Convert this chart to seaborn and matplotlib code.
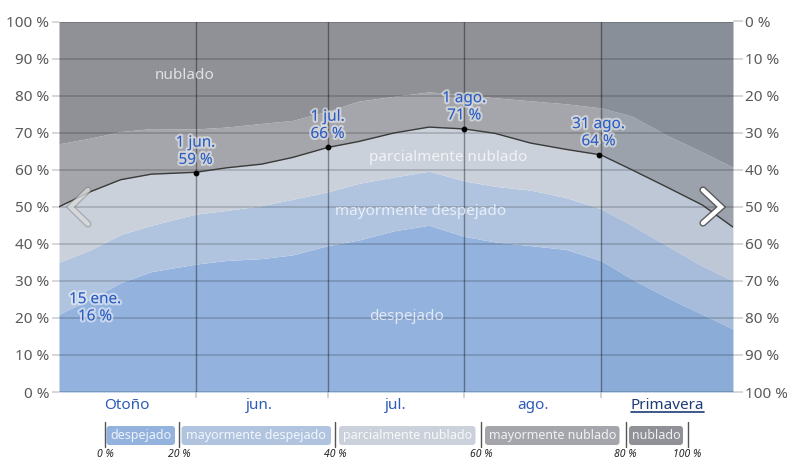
import numpy as np
import pandas as pd
import matplotlib
matplotlib.use("Agg")
import matplotlib.pyplot as plt
import matplotlib.patheffects as pe
from matplotlib.patches import FancyBboxPatch
import seaborn as sns

# ---------------- data (days since 1 May; percent of time) ----------------
days = [0, 7, 14, 21, 31, 38, 46, 53, 61, 68, 76, 84, 92, 99, 107, 115, 123, 130, 138, 146, 153]
despejado = [21, 25, 29.5, 32.5, 34.5, 35.5, 36, 37, 39.5, 41, 43.5, 45, 42, 40.5, 39.5, 38.5, 35.5, 30.5, 25.5, 21, 17]
mayormente_despejado = [14, 13.3, 13, 12.5, 13.5, 13.5, 14.3, 15, 14.5, 15.3, 14.5, 14.6, 15, 15, 15, 14, 14, 14.5, 14, 13, 13]
parcialmente_nublado = [15, 15.7, 14.8, 13.8, 11.3, 11.5, 11.2, 11.3, 12, 11.3, 11.9, 11.9, 14, 14.3, 12.7, 13, 14.5, 15, 15.8, 16.5, 14.5]
mayormente_nublado = [17, 14.5, 13, 12.3, 11.7, 11, 11, 10, 9.8, 10.9, 9.9, 9.5, 9.3, 9.6, 11.4, 12.3, 12.7, 14.5, 14, 14.3, 16.2]
nublado = [33, 31.5, 29.7, 28.9, 29, 28.5, 27.5, 26.7, 24.2, 21.5, 20.2, 19, 19.7, 20.6, 21.4, 22.2, 23.3, 25.5, 30.7, 35.2, 39.3]

categories = ["despejado", "mayormente despejado", "parcialmente nublado", "mayormente nublado", "nublado"]
band_colors = ["#93b2de", "#b0c4e0", "#cbd1db", "#a4a6ab", "#8f9196"]

month_bounds = [31, 61, 92, 123]
month_centers = [15.5, 45.5, 76.5, 107.5, 138]
month_labels = ["Otoño", "jun.", "jul.", "ago.", "Primavera"]

ann_dates = ["1 jun.", "1 jul.", "1 ago.", "31 ago."]
ann_days = [31, 61, 92, 122.5]
ann_values = [59, 66, 71, 64]

min_label = "15 ene.\n16 %"

yticks = list(range(0, 101, 10))

legend_seps = [105, 179, 335, 481, 625.5, 687.5]
legend_pcts = ["0 %", "20 %", "40 %", "60 %", "80 %", "100 %"]
legend_boxes = [(106.5, 175), (181.5, 331), (339, 475.5), (485, 619.5), (629, 683)]

# ---------------- style ----------------
sns.set_theme(style="white")
plt.rcParams["font.family"] = ["Noto Sans", "DejaVu Sans"]

W, H = 787, 459
fig = plt.figure(figsize=(W / 100, H / 100), dpi=100)
ax = fig.add_axes([59 / W, (H - 392) / H, 674 / W, 370.5 / H])

shares = np.array([despejado, mayormente_despejado, parcialmente_nublado,
                   mayormente_nublado, nublado], dtype=float)
cum = np.vstack([np.zeros(len(days)), np.cumsum(shares, axis=0)])
cum[-1] = 100.0

for i, c in enumerate(band_colors):
    ax.fill_between(days, cum[i], cum[i + 1], color=c, lw=0, zorder=1)

# spring overlay
ax.axvspan(123, 153, color="#5f86b2", alpha=0.12, lw=0, zorder=2)

# cloud cover line
line_df = pd.DataFrame({"day": days, "pct": cum[3]})
sns.lineplot(data=line_df, x="day", y="pct", color="#3a3a3a", lw=1.0, ax=ax, zorder=4)

ax.set_xlim(0, 153)
ax.set_ylim(0, 100)
for s in ax.spines.values():
    s.set_visible(False)

grid_c = (0, 0, 0, 0.2)
for v in yticks:
    ax.axhline(v, color=grid_c, lw=1.1, zorder=3)
for b in month_bounds:
    ax.axvline(b, color=(0, 0, 0, 0.38), lw=1.0, zorder=3)

ax.set_yticks(yticks)
ax.set_yticklabels([f"{v} %" for v in yticks])
ax.tick_params(axis="y", length=5, color=grid_c, width=1.1, pad=2,
               labelsize=11, labelcolor="#5a5a5a", left=True)

ax.set_xticks(month_bounds)
ax.set_xticklabels([])
ax.tick_params(axis="x", which="major", length=4, color=(0, 0, 0, 0.2), bottom=True)
ax.set_xticks(month_centers, minor=True)
ax.set_xticklabels(month_labels, minor=True)
ax.tick_params(axis="x", which="minor", length=0, pad=4, labelsize=11, labelcolor="#2d5bb8")
for lbl in ax.get_xticklabels(minor=True):
    if lbl.get_text() == "Primavera":
        lbl.set_color("#1e3c78")
ax.set_xlabel("")
ax.set_ylabel("")

ax2 = ax.twinx()
ax2.set_ylim(0, 100)
ax2.set_yticks(yticks)
ax2.set_yticklabels([f"{100 - v} %" for v in yticks])
ax2.tick_params(axis="y", length=7, color=grid_c, width=1.1, pad=2,
                labelsize=11, labelcolor="#5a5a5a", right=True)
for s in ax2.spines.values():
    s.set_visible(False)
ax2.grid(False)

# in-band labels
lab_kw = dict(color="white", alpha=0.72, fontsize=11, ha="center", va="center", zorder=5)
ax.text(28.6, 85.5, "nublado", **lab_kw)
ax.text(88.3, 63.3, "parcialmente nublado", **lab_kw)
ax.text(82, 48.8, "mayormente despejado", **lab_kw)
ax.text(78.8, 20.4, "despejado", **lab_kw)

# annotations
halo = [pe.withStroke(linewidth=3, foreground=(1, 1, 1, 0.5))]
for d, v, t in zip(ann_days, ann_values, ann_dates):
    ax.scatter([d], [v], s=10, color="black", zorder=6)
    ax.annotate(f"{t}\n{v} %", (d, v), xytext=(0, 4), textcoords="offset points",
                ha="center", va="bottom", fontsize=11, color="#2a5cc0",
                path_effects=halo, zorder=7, linespacing=1.2)
ax.text(8.2, 22.6, min_label, ha="center", va="center", fontsize=11,
        color="#2a5cc0", path_effects=halo, zorder=7, linespacing=1.2)

# ---------------- overlay (pixel coords) ----------------
ov = fig.add_axes([0, 0, 1, 1])
ov.set_xlim(0, W)
ov.set_ylim(H, 0)
ov.axis("off")
ov.patch.set_alpha(0)

# chevrons
ov.plot([88, 70.5, 88], [190, 207, 224], color=(1, 1, 1, 0.55), lw=3.2,
        solid_capstyle="round", solid_joinstyle="miter",
        path_effects=[pe.withStroke(linewidth=5, foreground=(0.5, 0.5, 0.5, 0.5))])
ov.plot([703, 721, 703], [190, 207, 223], color="white", lw=3.2,
        solid_capstyle="round", solid_joinstyle="miter",
        path_effects=[pe.withStroke(linewidth=5.2, foreground=(0.3, 0.3, 0.3, 0.85))])

# Primavera underline
ov.plot([630.5, 703.5], [411.5, 411.5], color="#1e3c78", lw=1.2)

# legend
for x in legend_seps:
    ov.plot([x, x], [422, 447], color="#555555", lw=1.0)
for x, t in zip(legend_seps, legend_pcts):
    ov.text(x, 454.5, t, ha="center", va="center", fontsize=7.5, style="italic", color="#222222")
for (x0, x1), c, name in zip(legend_boxes, band_colors, categories):
    ov.add_patch(FancyBboxPatch((x0, 426), x1 - x0, 19,
                                boxstyle="round,pad=0,rounding_size=3", fc=c, ec="none"))
    ov.text((x0 + x1) / 2, 435.5, name, ha="center", va="center", fontsize=9,
            color="white", alpha=0.85)

fig.savefig("out.png", dpi=100)
